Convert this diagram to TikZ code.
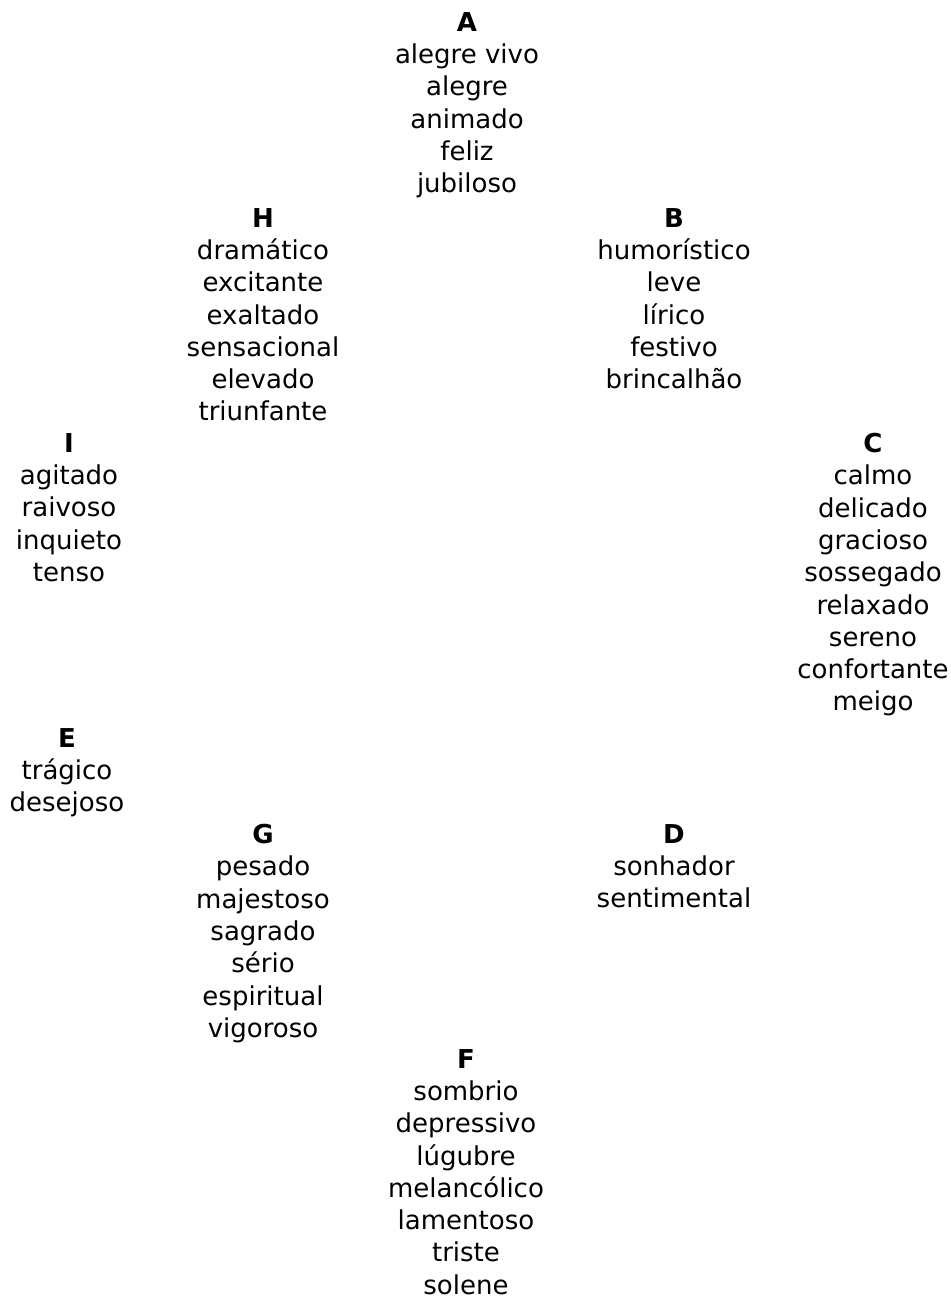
\documentclass[tikz,border=0pt]{standalone}
\usepackage{fontspec}
\setmainfont{DejaVu Sans}
\usepackage{tikz}

\begin{document}
\begin{tikzpicture}[every node/.style={align=center, inner sep=0pt,
        anchor=north, font=\fontsize{26pt}{32.3pt}\selectfont}]
        \useasboundingbox (0,0) rectangle (950pt,-1297pt);

        \node (A) at (467pt, -12pt) {\textbf{A}\\ alegre vivo\\ alegre\\ animado\\ feliz\\ jubiloso};
        \node (B) at (674pt, -208pt) {\textbf{B}\\ humorístico\\ leve\\ lírico\\ festivo\\ brincalhão};
        \node (C) at (873pt, -433pt) {\textbf{C}\\ calmo\\ delicado\\ gracioso\\ sossegado\\ relaxado\\ sereno\\ confortante\\ meigo};
        \node (D) at (674pt, -824pt) {\textbf{D}\\ sonhador\\ sentimental};
        \node (E) at (67pt, -728pt) {\textbf{E}\\ trágico\\ desejoso};
        \node (F) at (466pt, -1049pt) {\textbf{F}\\ sombrio\\ depressivo\\ lúgubre\\ melancólico\\ lamentoso\\ triste\\ solene};
        \node (G) at (263pt, -824pt) {\textbf{G}\\ pesado\\ majestoso\\ sagrado\\ sério\\ espiritual\\ vigoroso};
        \node (H) at (263pt, -208pt) {\textbf{H}\\ dramático\\ excitante\\ exaltado\\ sensacional\\ elevado\\ triunfante};
        \node (I) at (69pt, -433pt) {\textbf{I}\\ agitado\\ raivoso\\ inquieto\\ tenso};
    \end{tikzpicture}
\end{document}
